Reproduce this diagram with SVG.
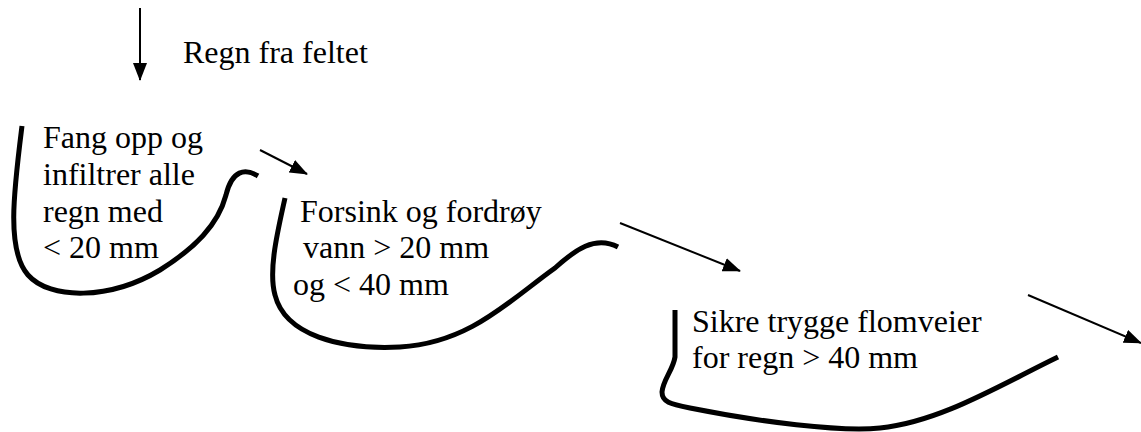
<svg xmlns="http://www.w3.org/2000/svg" width="1141" height="432" viewBox="0 0 1141 432">
<style>
.t{font-family:'Liberation Serif','DejaVu Serif','Times New Roman',Times,serif;font-size:32px;fill:#000}
.curve{fill:none;stroke:#000;stroke-width:5;stroke-linecap:butt}
.arr{fill:none;stroke:#000;stroke-width:2}
</style>
<defs>
<marker id="ah" markerWidth="18" markerHeight="14" refX="17" refY="7" orient="auto" markerUnits="userSpaceOnUse">
<path d="M0,0 L18,7 L0,14 Z" fill="#000"/>
</marker>
</defs>
<rect width="1141" height="432" fill="#fff"/>
<g id="rain">
<text class="t" x="183" y="63">Regn fra feltet</text>
</g>
<g id="node1">
<path class="curve" d="M22,126 C14,190 6,250 28,275 C50,300 110,300 160,270 C195,248 218,225 226,195 C232,170 245,168 258,176"/>
<text class="t" x="43" y="148">Fang opp og</text>
<text class="t" x="43" y="185">infiltrer alle</text>
<text class="t" x="43" y="222">regn med</text>
<text class="t" x="43" y="258">&lt; 20 mm</text>
</g>
<g id="node2">
<path class="curve" d="M285,198 C278,230 268,270 275,295 C285,335 340,350 400,347 C470,343 510,300 555,268 C575,250 595,235 618,247"/>
<text class="t" x="300" y="222">Forsink og fordrøy</text>
<text class="t" x="303" y="258">vann &gt; 20 mm</text>
<text class="t" x="293" y="295">og &lt; 40 mm</text>
</g>
<g id="node3">
<path class="curve" d="M675,310 L675,357 C673,370 663,380 662,392 C662,402 670,404 690,408 C760,422 840,432 880,428 C940,422 1000,385 1058,357"/>
<text class="t" x="692" y="332">Sikre trygge flomveier</text>
<text class="t" x="692" y="368">for regn &gt; 40 mm</text>
</g>
<g id="connectors">
<line class="arr" x1="140" y1="8" x2="140" y2="80" marker-end="url(#ah)"/>
<line class="arr" x1="260" y1="150" x2="307" y2="174" marker-end="url(#ah)"/>
<line class="arr" x1="620" y1="223" x2="740" y2="271" marker-end="url(#ah)"/>
<line class="arr" x1="1028" y1="295" x2="1141" y2="343" marker-end="url(#ah)"/>
</g>
</svg>
